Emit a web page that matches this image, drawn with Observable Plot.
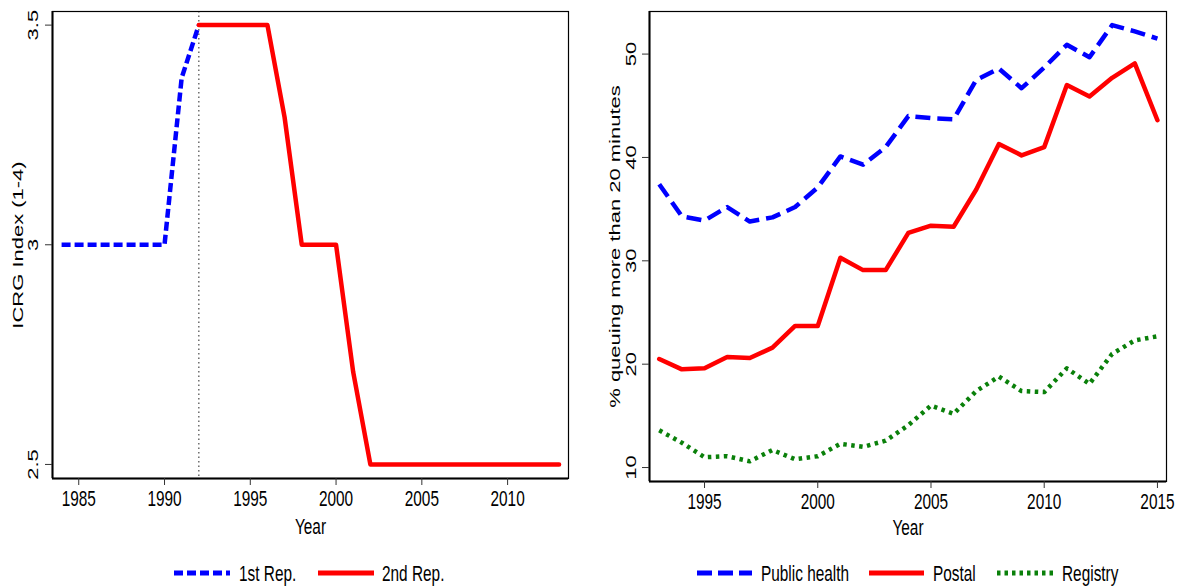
<!DOCTYPE html>
<html>
<head>
<meta charset="utf-8">
<script src="https://cdn.jsdelivr.net/npm/d3@7"></script>
<script src="https://cdn.jsdelivr.net/npm/@observablehq/plot@0.6"></script>
<style>
  html, body { margin: 0; padding: 0; background: #fff; }
  #wrap { position: relative; width: 1177px; height: 587px; overflow: hidden; background: #fff; }
  #left, #right, #legend { position: absolute; top: 0; }
  #left { left: 0; }
  #right { left: 590px; }
  #legend { top: 545px; left: 0; }
</style>
</head>
<body>
<div id="wrap">
  <div id="left"></div>
  <div id="right"></div>
  <svg id="legend" width="1177" height="42"></svg>
</div>
<script>
// ---------- Left panel data ----------
const rep1Years = [1984, 1985, 1986, 1987, 1988, 1989, 1990, 1991, 1992];
const rep1Values = [3, 3, 3, 3, 3, 3, 3, 3.38, 3.5];
const rep2Years = [1992, 1993, 1994, 1995, 1996, 1997, 1998, 1999, 2000, 2001, 2002,
                   2003, 2004, 2005, 2006, 2007, 2008, 2009, 2010, 2011, 2012, 2013];
const rep2Values = [3.5, 3.5, 3.5, 3.5, 3.5, 3.29, 3.0, 3.0, 3.0, 2.71, 2.5,
                    2.5, 2.5, 2.5, 2.5, 2.5, 2.5, 2.5, 2.5, 2.5, 2.5, 2.5];
const leftXTicks = [1985, 1990, 1995, 2000, 2005, 2010];
const leftYTicks = [2.5, 3, 3.5];
const leftYTickLabels = ["2.5", "3", "3.5"];
const repChangeYear = 1992;

// ---------- Right panel data ----------
const queueYears = [1993, 1994, 1995, 1996, 1997, 1998, 1999, 2000, 2001, 2002, 2003, 2004,
                    2005, 2006, 2007, 2008, 2009, 2010, 2011, 2012, 2013, 2014, 2015];
const publicHealth = [37.4, 34.3, 33.9, 35.2, 33.8, 34.2, 35.2, 37.1, 40.1, 39.3, 41.0, 44.0,
                      43.8, 43.7, 47.5, 48.6, 46.7, 48.7, 50.9, 49.7, 52.8, 52.2, 51.5];
const postal = [20.5, 19.5, 19.6, 20.7, 20.6, 21.6, 23.7, 23.7, 30.3, 29.1, 29.1, 32.7,
                33.4, 33.3, 36.9, 41.3, 40.2, 41.0, 47.0, 45.9, 47.7, 49.1, 43.6];
const registry = [13.6, 12.4, 11.0, 11.1, 10.6, 11.7, 10.8, 11.1, 12.3, 12.0, 12.6, 14.1,
                  16.0, 15.2, 17.4, 18.8, 17.4, 17.3, 19.6, 18.1, 21.0, 22.3, 22.7];
const rightXTicks = [1995, 2000, 2005, 2010, 2015];
const rightYTicks = [10, 20, 30, 40, 50];
const rightYTickLabels = ["10", "20", "30", "40", "50"];

// ---------- Styles ----------
const BLUE = "#0000FF", RED = "#FF0000", GREEN = "#0A800A";
const SQ = 0.7; // horizontal squeeze of the reference text
const FONT = "'Liberation Sans', Arial, sans-serif";

// squeeze text horizontally (screen x) around each text's anchor point
function squeeze(svg, k) {
  d3.select(svg).selectAll("text").each(function () {
    const t = this.getAttribute("transform") || "";
    const mt = t.match(/translate\(\s*([-\d.e]+)[\s,]*([-\d.e]+)?\s*\)/);
    const mr = t.match(/rotate\(\s*([-\d.e]+)\s*\)/);
    const tx = mt ? +mt[1] : 0, ty = mt && mt[2] !== undefined ? +mt[2] : 0;
    const rot = mr ? ` rotate(${mr[1]})` : "";
    this.setAttribute("transform", `translate(${tx},${ty}) scale(${k},1)${rot}`);
  });
}

function frameMarks(xDom, yDom) {
  return [
    Plot.frame({stroke: "#000", strokeWidth: 1.2}),
    Plot.ruleY([yDom[0]], {stroke: "#000", strokeWidth: 2}),
    Plot.ruleX([xDom[0]], {stroke: "#000", strokeWidth: 2})
  ];
}

// ---------- Left panel ----------
const leftXDom = [1983.47, 2013.55], leftYDom = [2.468, 3.531];
const rep1 = rep1Years.map((y, i) => ({year: y, value: rep1Values[i]}));
const rep2 = rep2Years.map((y, i) => ({year: y, value: rep2Values[i]}));
const leftYT = leftYTicks.map((v, i) => ({v, label: leftYTickLabels[i]}));

const left = Plot.plot({
  width: 590, height: 545,
  marginLeft: 52, marginRight: 22, marginTop: 11, marginBottom: 67,
  style: {fontFamily: FONT, fontSize: "22px", background: "#fff", color: "#000"},
  x: {domain: leftXDom, axis: null},
  y: {domain: leftYDom, axis: null},
  marks: [
    Plot.ruleX([repChangeYear], {stroke: "#555", strokeWidth: 1.3, strokeDasharray: "1.5,3"}),
    Plot.line(rep1, {x: "year", y: "value", stroke: BLUE, strokeWidth: 4.5, strokeDasharray: "9,4", strokeLinecap: "butt"}),
    Plot.line(rep2, {x: "year", y: "value", stroke: RED, strokeWidth: 4.5, strokeLinecap: "round"}),
    ...frameMarks(leftXDom, leftYDom),
    Plot.axisX({ticks: leftXTicks, tickFormat: d => String(d), tickSize: 7, tickPadding: 5, fontSize: 22, stroke: "#333", label: null}),
    Plot.axisY({ticks: leftYTicks, tickFormat: () => "", tickSize: 7, stroke: "#333", label: null}),
    Plot.text(leftYT, {y: "v", text: "label", frameAnchor: "left", rotate: -90, dx: -19, fontSize: 22, textAnchor: "middle", lineAnchor: "middle"}),
    Plot.text(["ICRG Index (1-4)"], {frameAnchor: "left", rotate: -90, dx: -34, fontSize: 22, textAnchor: "middle", lineAnchor: "middle"}),
    Plot.text(["Year"], {frameAnchor: "bottom", dy: 48, fontSize: 22, textAnchor: "middle", lineAnchor: "middle"})
  ]
});
squeeze(left, SQ);
document.getElementById("left").appendChild(left);

// ---------- Right panel ----------
const rightXDom = [1992.57, 2015.40], rightYDom = [8.65, 54.12];
const series = [
  {name: "Public health", values: publicHealth},
  {name: "Postal", values: postal},
  {name: "Registry", values: registry}
];
const rows = series.flatMap(s => queueYears.map((y, i) => ({series: s.name, year: y, value: s.values[i]})));
const rightYT = rightYTicks.map((v, i) => ({v, label: rightYTickLabels[i]}));

const right = Plot.plot({
  width: 587, height: 545,
  marginLeft: 59, marginRight: 11, marginTop: 11, marginBottom: 64,
  style: {fontFamily: FONT, fontSize: "22px", background: "#fff", color: "#000"},
  x: {domain: rightXDom, axis: null},
  y: {domain: rightYDom, axis: null},
  marks: [
    Plot.line(rows.filter(d => d.series === "Registry"), {x: "year", y: "value", stroke: GREEN, strokeWidth: 4.5, strokeDasharray: "3.5,4.5", strokeLinecap: "butt"}),
    Plot.line(rows.filter(d => d.series === "Postal"), {x: "year", y: "value", stroke: RED, strokeWidth: 4.5, strokeLinecap: "round"}),
    Plot.line(rows.filter(d => d.series === "Public health"), {x: "year", y: "value", stroke: BLUE, strokeWidth: 4.5, strokeDasharray: "15,7", strokeLinecap: "butt"}),
    ...frameMarks(rightXDom, rightYDom),
    Plot.axisX({ticks: rightXTicks, tickFormat: d => String(d), tickSize: 7, tickPadding: 5, fontSize: 22, stroke: "#333", label: null}),
    Plot.axisY({ticks: rightYTicks, tickFormat: () => "", tickSize: 7, stroke: "#333", label: null}),
    Plot.text(rightYT, {y: "v", text: "label", frameAnchor: "left", rotate: -90, dx: -18, fontSize: 22, textAnchor: "middle", lineAnchor: "middle"}),
    Plot.text(["% queuing more than 20 minutes"], {frameAnchor: "left", rotate: -90, dx: -34, fontSize: 22, textAnchor: "middle", lineAnchor: "middle"}),
    Plot.text(["Year"], {frameAnchor: "bottom", dy: 46, fontSize: 22, textAnchor: "middle", lineAnchor: "middle"})
  ]
});
squeeze(right, SQ);
document.getElementById("right").appendChild(right);

// ---------- Legends ----------
const legendItems = [
  {label: "1st Rep.", color: BLUE, dash: "9,4", x0: 174, x1: 230, tx: 239},
  {label: "2nd Rep.", color: RED, dash: null, x0: 318, x1: 374, tx: 382},
  {label: "Public health", color: BLUE, dash: "15,6", x0: 697, x1: 752, tx: 761},
  {label: "Postal", color: RED, dash: null, x0: 869, x1: 924, tx: 933},
  {label: "Registry", color: GREEN, dash: "3.5,4", x0: 997, x1: 1054, tx: 1062}
];
const lg = d3.select("#legend");
const ly = 28;
legendItems.forEach(it => {
  lg.append("line").attr("x1", it.x0).attr("x2", it.x1).attr("y1", ly).attr("y2", ly)
    .attr("stroke", it.color).attr("stroke-width", 5)
    .attr("stroke-dasharray", it.dash || null);
  lg.append("text").attr("transform", `translate(${it.tx},${ly}) scale(${SQ},1)`)
    .attr("dy", "0.35em").attr("font-family", FONT).attr("font-size", 22).attr("fill", "#000")
    .text(it.label);
});
</script>
</body>
</html>
